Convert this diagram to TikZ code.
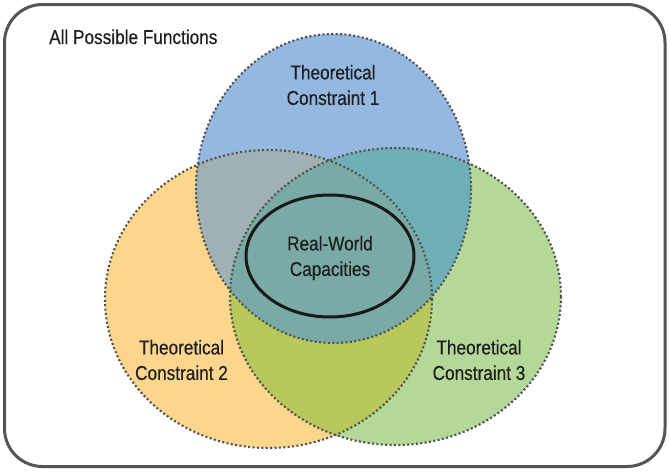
\documentclass[tikz,border=0pt]{standalone}
\usepackage{fontspec}
\setmainfont{Liberation Sans}[FakeStretch=0.86, FakeBold=0.35]
\definecolor{cblue}{RGB}{148,184,224}
\definecolor{corange}{RGB}{252,214,140}
\definecolor{cgreen}{RGB}{179,216,151}
\definecolor{cAB}{RGB}{159,177,179}
\definecolor{cAC}{RGB}{111,176,184}
\definecolor{cBC}{RGB}{184,200,92}
\definecolor{cABC}{RGB}{122,170,166}
\definecolor{dotgray}{RGB}{80,80,80}
\definecolor{framegray}{RGB}{85,85,85}
\definecolor{txt}{RGB}{30,30,30}
\tikzset{
  pA/.style={insert path={(333.5,188.5) ellipse [x radius=137.5, y radius=154.5]}},
  pB/.style={insert path={(268.5,299) ellipse [x radius=163.5, y radius=149]}},
  pC/.style={insert path={(395.5,296.5) ellipse [x radius=165.5, y radius=148.5]}},
  dotline/.style={draw=dotgray, line width=2.1pt, dash pattern=on 2pt off 2.4pt},
  lbl/.style={text=txt, align=center, inner sep=0pt, font=\fontsize{20}{25.5}\selectfont},
}
\begin{document}
\begin{tikzpicture}[x=1pt,y=-1pt]
\useasboundingbox (0,0) rectangle (669,471);
% outer frame
\draw[framegray, line width=3pt, rounded corners=38pt] (4.5,4.5) rectangle (665,466.5);
% fills
\fill[cblue, pA];
\fill[corange, pB];
\fill[cgreen, pC];
\begin{scope}
  \clip[pA];
  \fill[cAB, pB];
  \fill[cAC, pC];
\end{scope}
\begin{scope}
  \clip[pB];
  \fill[cBC, pC];
\end{scope}
\begin{scope}
  \clip[pA];
  \clip[pB];
  \fill[cABC, pC];
\end{scope}
% dotted borders
\path[dotline, pA];
\path[dotline, pB];
\path[dotline, pC];
% real-world ellipse
\draw[black!90, line width=3pt] (330,256) ellipse [x radius=84, y radius=61];
% labels
\node[lbl, anchor=base west] (all) at (49,44) {All Possible Functions};
\node[lbl] (t1) at (333,85) {Theoretical\\Constraint 1};
\node[lbl] (t2) at (181.5,360) {Theoretical\\Constraint 2};
\node[lbl] (t3) at (479,360) {Theoretical\\Constraint 3};
\node[lbl] (rw) at (330,258) {Real-World\\Capacities};
\end{tikzpicture}
\end{document}
